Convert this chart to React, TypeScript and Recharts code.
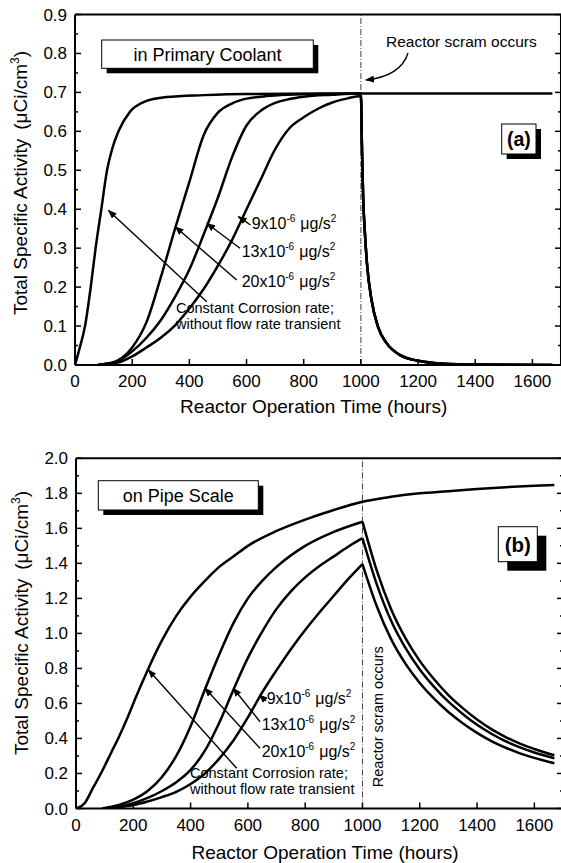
import React from 'react';
import { LineChart, Line, XAxis, YAxis, ReferenceLine } from 'recharts';

const FONT = "'Liberation Sans', Arial, Helvetica, sans-serif";

// hours axis (shared by both panels)
const X_MAX = 1700;
const SCRAM_HOUR = 1000;
const hourMajor = [0, 200, 400, 600, 800, 1000, 1200, 1400, 1600];
const hourMinor = [100, 300, 500, 700, 900, 1100, 1300, 1500];

// panel (a) - in primary coolant, [hours, uCi/cm3]
const coolantMajor = [0, 0.1, 0.2, 0.3, 0.4, 0.5, 0.6, 0.7, 0.8, 0.9];
const coolantMinor = [0.05, 0.15, 0.25, 0.35, 0.45, 0.55, 0.65, 0.75, 0.85];
const coolantConst = [
  [0, 0], [15, 0.04], [35, 0.1], [55, 0.2], [72, 0.3], [92, 0.4], [112, 0.5], [130, 0.555],
  [152, 0.6], [192, 0.65], [240, 0.675], [320, 0.688], [450, 0.693], [600, 0.696], [1000, 0.697], [1670, 0.697],
];
const coolant20 = [
  [80, 0], [100, 0.002], [150, 0.012], [200, 0.045], [250, 0.11], [300, 0.225], [350, 0.35], [400, 0.47],
  [450, 0.59], [500, 0.648], [550, 0.672], [600, 0.684], [650, 0.689], [700, 0.692], [800, 0.695], [900, 0.696], [1000, 0.697],
];
const coolant13 = [
  [80, 0], [100, 0.002], [150, 0.01], [200, 0.035], [250, 0.07], [300, 0.115], [350, 0.175], [400, 0.245],
  [450, 0.335], [500, 0.43], [550, 0.535], [600, 0.615], [650, 0.653], [700, 0.673], [750, 0.683], [800, 0.689],
  [900, 0.694], [1000, 0.697],
];
const coolant9 = [
  [80, 0], [100, 0.001], [150, 0.006], [200, 0.022], [250, 0.045], [300, 0.07], [350, 0.102], [400, 0.145],
  [450, 0.195], [500, 0.255], [550, 0.322], [600, 0.4], [650, 0.477], [700, 0.554], [750, 0.608], [800, 0.636],
  [850, 0.658], [900, 0.674], [950, 0.684], [1000, 0.691],
];
// after the scram the three transient curves fall on top of each other
const coolantDecay = [
  [1004, 0.55], [1008, 0.43], [1014, 0.34], [1022, 0.255], [1037, 0.168], [1060, 0.098], [1090, 0.056],
  [1136, 0.026], [1206, 0.01], [1276, 0.004], [1416, 0.001], [1670, 0],
];

// panel (b) - on pipe scale
const pipeMajor = [0, 0.2, 0.4, 0.6, 0.8, 1.0, 1.2, 1.4, 1.6, 1.8, 2.0];
const pipeMinor = [0.1, 0.3, 0.5, 0.7, 0.9, 1.1, 1.3, 1.5, 1.7, 1.9];
const pipeConst = [
  [0, 0], [30, 0.03], [60, 0.12], [90, 0.21], [120, 0.31], [150, 0.41], [180, 0.52], [210, 0.64], [250, 0.79],
  [300, 0.96], [350, 1.1], [400, 1.21], [450, 1.3], [500, 1.38], [550, 1.44], [600, 1.5], [700, 1.585],
  [800, 1.65], [900, 1.705], [1000, 1.752], [1100, 1.78], [1200, 1.8], [1300, 1.812], [1400, 1.825],
  [1500, 1.835], [1600, 1.843], [1670, 1.847],
];
const pipe20Rise = [
  [90, 0], [150, 0.02], [200, 0.05], [250, 0.1], [300, 0.18], [350, 0.3], [400, 0.47], [450, 0.68],
  [500, 0.88], [550, 1.06], [600, 1.2], [650, 1.3], [700, 1.38], [800, 1.5], [900, 1.58], [1000, 1.638],
];
const pipe20Decay = [
  [1000, 1.638], [1050, 1.358], [1100, 1.138], [1150, 0.973], [1200, 0.843], [1250, 0.738], [1300, 0.648],
  [1350, 0.573], [1400, 0.508], [1450, 0.453], [1500, 0.408], [1550, 0.37], [1600, 0.34], [1670, 0.304],
];
const pipe13Rise = [
  [100, 0], [150, 0.01], [200, 0.03], [250, 0.06], [300, 0.1], [350, 0.15], [400, 0.22], [450, 0.33],
  [500, 0.49], [550, 0.68], [600, 0.86], [650, 1.01], [700, 1.14], [750, 1.24], [800, 1.32], [850, 1.385],
  [900, 1.44], [950, 1.495], [1000, 1.544],
];
const pipe13Decay = [
  [1000, 1.544], [1050, 1.28], [1100, 1.072], [1150, 0.917], [1200, 0.794], [1250, 0.695], [1300, 0.61],
  [1350, 0.54], [1400, 0.478], [1450, 0.427], [1500, 0.384], [1550, 0.349], [1600, 0.32], [1670, 0.287],
];
const pipe9Rise = [
  [110, 0], [150, 0.008], [200, 0.02], [250, 0.04], [300, 0.065], [350, 0.095], [400, 0.14], [450, 0.2],
  [500, 0.285], [550, 0.39], [600, 0.52], [650, 0.663], [700, 0.79], [750, 0.91], [800, 1.02], [850, 1.12],
  [900, 1.215], [950, 1.31], [1000, 1.396],
];
const pipe9Decay = [
  [1000, 1.396], [1050, 1.155], [1100, 0.967], [1150, 0.827], [1200, 0.717], [1250, 0.627], [1300, 0.551],
  [1350, 0.487], [1400, 0.432], [1450, 0.385], [1500, 0.347], [1550, 0.315], [1600, 0.289], [1670, 0.258],
];

const pts = (arr: number[][]) => arr.map(([x, y]) => ({ x, y }));

// axes get a tiny size so they still draw but take no room
const THIN = 0.01;
const axisLine = { stroke: '#000', strokeWidth: 2 };
const tickLine = { stroke: '#000', strokeWidth: 1.5 };
const noLabel = () => <g />;
const tickText = { fill: '#000', fontSize: 17, fontFamily: FONT };

interface PanelProps {
  width: number;
  height: number;
  margin: { top: number; right: number; bottom: number; left: number };
  yMax: number;
  yMajor: number[];
  yMinor: number[];
  series: number[][][];
  children?: React.ReactNode;
}

const Panel: React.FC<PanelProps> = ({ width, height, margin, yMax, yMajor, yMinor, series, children }) => (
  <div style={{ position: 'relative', width: 561, height, overflow: 'hidden' }}>
    <LineChart width={width} height={height} margin={margin}>
      <XAxis xAxisId="minor" type="number" domain={[0, X_MAX]} ticks={hourMinor} allowDataOverflow
        height={THIN} tickSize={-3} tick={noLabel} axisLine={false} tickLine={tickLine} />
      <XAxis xAxisId="main" type="number" dataKey="x" domain={[0, X_MAX]} ticks={hourMajor} allowDataOverflow
        height={THIN} tickSize={-6} tickMargin={16} tick={tickText} axisLine={axisLine} tickLine={tickLine} />
      <XAxis xAxisId="topMinor" orientation="top" type="number" domain={[0, X_MAX]} ticks={hourMinor} allowDataOverflow
        height={THIN} tickSize={-3} tick={noLabel} axisLine={false} tickLine={tickLine} />
      <XAxis xAxisId="top" orientation="top" type="number" domain={[0, X_MAX]} ticks={hourMajor} allowDataOverflow
        height={THIN} tickSize={-6} tick={noLabel} axisLine={axisLine} tickLine={tickLine} />
      <YAxis yAxisId="minor" type="number" domain={[0, yMax]} ticks={yMinor} allowDataOverflow
        width={THIN} tickSize={-3} tick={noLabel} axisLine={false} tickLine={tickLine} />
      <YAxis yAxisId="main" type="number" domain={[0, yMax]} ticks={yMajor} allowDataOverflow
        width={THIN} tickSize={-6} tickMargin={14} tick={tickText} tickFormatter={(v: number) => v.toFixed(1)}
        axisLine={axisLine} tickLine={tickLine} />
      <YAxis yAxisId="rightMinor" orientation="right" type="number" domain={[0, yMax]} ticks={yMinor} allowDataOverflow
        width={THIN} tickSize={-3} tick={noLabel} axisLine={false} tickLine={tickLine} />
      <YAxis yAxisId="right" orientation="right" type="number" domain={[0, yMax]} ticks={yMajor} allowDataOverflow
        width={THIN} tickSize={-6} tick={noLabel} axisLine={axisLine} tickLine={tickLine} />
      <ReferenceLine xAxisId="main" yAxisId="main" x={SCRAM_HOUR} stroke="#444" strokeWidth={1}
        strokeDasharray="6 2 1 2" />
      {series.map((s, i) => (
        <Line key={i} xAxisId="main" yAxisId="main" data={pts(s)} dataKey="y" type="monotone"
          stroke="#000" strokeWidth={2.5} dot={false} activeDot={false} isAnimationActive={false} />
      ))}
    </LineChart>
    <svg width={561} height={height} style={{ position: 'absolute', left: 0, top: 0, pointerEvents: 'none' }}
      fontFamily={FONT}>
      {children}
    </svg>
  </div>
);

const Head = ({ id }: { id: string }) => (
  <defs>
    <marker id={id} markerWidth={9} markerHeight={7} refX={8} refY={3.5} orient="auto" markerUnits="userSpaceOnUse">
      <path d="M0,0 L9,3.5 L0,7 z" fill="#000" />
    </marker>
  </defs>
);

const Arrow = ({ a, id }: { a: number[]; id: string }) => (
  <line x1={a[0]} y1={a[1]} x2={a[2]} y2={a[3]} stroke="#000" strokeWidth={1.4} markerEnd={`url(#${id})`} />
);

const Rate = ({ x, y, coef }: { x: number; y: number; coef: string }) => (
  <text x={x} y={y} fontSize={16}>
    {coef}x10<tspan dy={-7} fontSize={10}>-6</tspan>
    <tspan dy={7} dx={5}>μg/s</tspan>
    <tspan dy={-7} fontSize={10}>2</tspan>
  </text>
);

const ShadowBox = ({ x, y, w, h, off, label, size, bold }: {
  x: number; y: number; w: number; h: number; off: number; label: string; size: number; bold?: boolean;
}) => (
  <g>
    <rect x={x + off} y={y + off} width={w} height={h} fill="#000" />
    <rect x={x} y={y} width={w} height={h} fill="#fff" stroke="#000" strokeWidth={1} />
    <text x={x + w / 2} y={y + h / 2 + size * 0.36} textAnchor="middle" fontSize={size}
      fontWeight={bold ? 'bold' : 'normal'}>{label}</text>
  </g>
);

const YTitle = ({ x, y }: { x: number; y: number }) => (
  <text transform={`translate(${x},${y}) rotate(-90)`} textAnchor="middle" fontSize={19}>
    Total Specific Activity<tspan dx={9}>(μCi/cm</tspan>
    <tspan dy={-8} fontSize={12}>3</tspan>
    <tspan dy={8}>)</tspan>
  </text>
);

// arrows: [x1, y1, x2, y2] in panel pixels
const arrowsA = [
  [206.7, 301.7, 108.5, 210.5],
  [236.7, 280, 175.5, 227],
  [240, 248.3, 207, 223.5],
  [250.5, 225, 238.5, 216.7],
];
const arrowsB = [
  [236.7, 348.3, 148.5, 250],
  [260, 328.3, 205, 268.3],
  [260, 301.7, 233.3, 268.3],
  [266, 281, 259.5, 275],
];

export default function App() {
  return (
    <div style={{ position: 'absolute', left: 0, top: 0, width: 561, height: 863, overflow: 'hidden', background: '#fff' }}>
      <Panel width={561} height={420} margin={{ top: 14.5, right: 0, bottom: 55, left: 75 }}
        yMax={0.9} yMajor={coolantMajor} yMinor={coolantMinor}
        series={[coolantConst, coolant20.concat(coolantDecay), coolant13.concat(coolantDecay), coolant9.concat(coolantDecay)]}>
        <Head id="headA" />
        <ShadowBox x={101.7} y={40} w={211.6} h={28.3} off={5} label="in Primary Coolant" size={18} />
        <ShadowBox x={501.7} y={124} w={34.3} h={30} off={5} label="(a)" size={19.5} bold />
        <text x={386} y={46.7} fontSize={15.5}>Reactor scram occurs</text>
        <path d="M408,53 Q401,76 366,80" fill="none" stroke="#000" strokeWidth={1.4} markerEnd="url(#headA)" />
        <Rate x={251.7} y={228.5} coef="9" />
        <Rate x={241.7} y={257} coef="13" />
        <Rate x={241.7} y={287} coef="20" />
        <text x={176} y={313} fontSize={14.5}>Constant Corrosion rate;</text>
        <text x={176} y={328.5} fontSize={14.5}>without flow rate transient</text>
        {arrowsA.map((a, i) => <Arrow key={i} a={a} id="headA" />)}
        <YTitle x={27} y={183} />
        <text x={313.7} y={413} textAnchor="middle" fontSize={19}>Reactor Operation Time (hours)</text>
      </Panel>
      <Panel width={563} height={443} margin={{ top: 38.3, right: 0, bottom: 54.5, left: 76 }}
        yMax={2.0} yMajor={pipeMajor} yMinor={pipeMinor}
        series={[pipeConst, pipe20Rise, pipe20Decay, pipe13Rise, pipe13Decay, pipe9Rise, pipe9Decay]}>
        <Head id="headB" />
        <ShadowBox x={98.3} y={60.7} w={160} h={29.3} off={5} label="on Pipe Scale" size={18} />
        <ShadowBox x={498.3} y={106.7} w={39} h={35} off={9} label="(b)" size={20.5} bold />
        <text transform="translate(383,296.7) rotate(-90)" textAnchor="middle" fontSize={14.5}>Reactor scram occurs</text>
        <Rate x={266.7} y={283.5} coef="9" />
        <Rate x={261.7} y={310} coef="13" />
        <Rate x={261.7} y={336.7} coef="20" />
        <text x={190} y={358} fontSize={14.5}>Constant Corrosion rate;</text>
        <text x={190} y={373.5} fontSize={14.5}>without flow rate transient</text>
        {arrowsB.map((a, i) => <Arrow key={i} a={a} id="headB" />)}
        <YTitle x={28} y={203} />
        <text x={325} y={439} textAnchor="middle" fontSize={19}>Reactor Operation Time (hours)</text>
      </Panel>
    </div>
  );
}
